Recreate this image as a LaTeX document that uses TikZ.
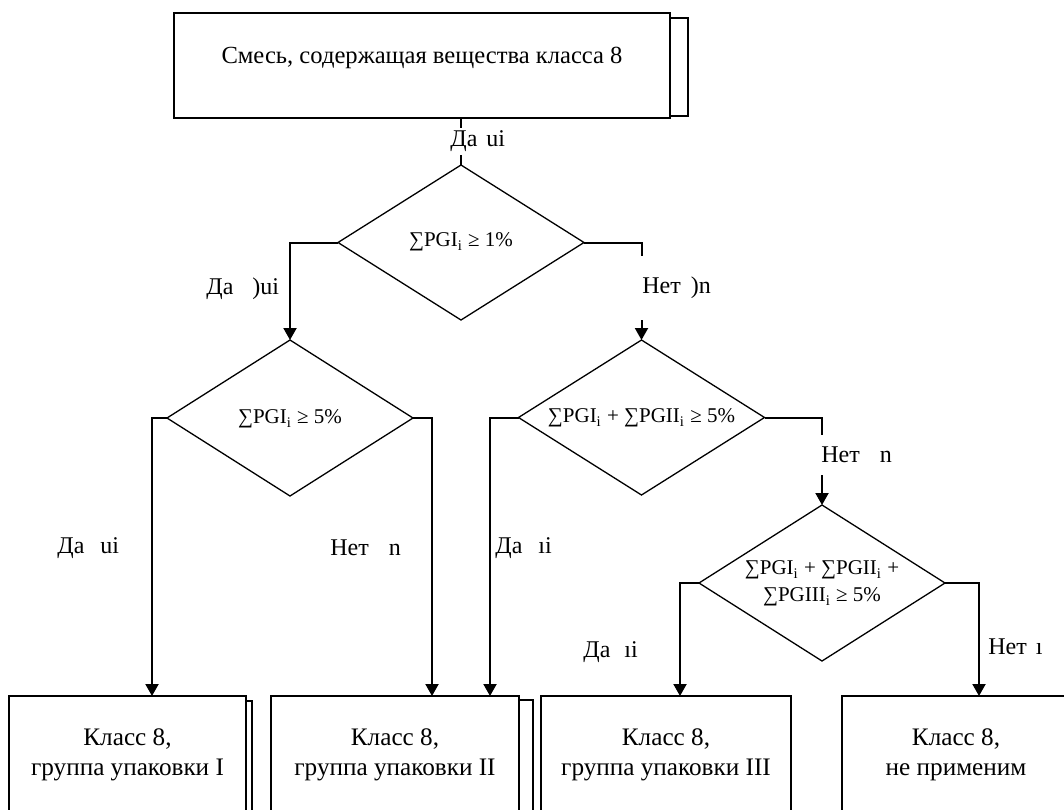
\documentclass[tikz,border=0pt]{standalone}
\usepackage{fontspec}
\setmainfont{Liberation Serif}
\usetikzlibrary{shapes.geometric,arrows.meta,calc}
\newcommand{\sbi}{\textsubscript{i}}
\begin{document}
\begin{tikzpicture}[x=0.5pt,y=-0.5pt,font=\fontsize{12}{15}\selectfont,
  boxst/.style={draw,line width=0.65pt,inner sep=0pt,outer sep=0pt},
  dia/.style={draw,diamond,line width=0.65pt,inner sep=0pt,outer sep=0pt,minimum width=123pt,minimum height=78pt},
  txt/.style={inner sep=0pt,align=center},
  btxt/.style={inner sep=0pt,align=center,font=\fontsize{12.6}{15}\selectfont},
  dtxt/.style={inner sep=0pt,align=center,font=\fontsize{10.5}{13.5}\selectfont},
  lbl/.style={fill=white,inner sep=1pt,anchor=west},
  nlbl/.style={inner sep=1pt,anchor=west},
  conn/.style={line width=1pt},
  arr/.style={line width=1pt,-{Triangle[length=6pt,width=6.5pt]}},
  shad/.style={line width=0.65pt}]
\useasboundingbox (0,0) rectangle (1064,809);
\clip (0,0) rectangle (1064,809);
% top box
\node[boxst,minimum width=248pt,minimum height=52.5pt] (t) at (422,65.5) {};
\node[txt,font=\fontsize{12.3}{15}\selectfont] (tt) at (422,58) {Смесь, содержащая вещества класса 8};
\draw[shad] ([yshift=-2.5pt]t.north east) -- ++(18,0) |- ([yshift=1pt]t.south east);
% diamonds
\node[dia,minimum height=77.5pt] (d1) at (461,242.5) {};
\node[dtxt] (d1t) at (461,242) {∑PGI\sbi{} ≥ 1\%};
\node[dia] (d2) at (290,418) {};
\node[dtxt] (d2t) at (290,419) {∑PGI\sbi{} ≥ 5\%};
\node[dia,minimum height=77.5pt] (d3) at (641.5,417.5) {};
\node[dtxt] (d3t) at (641.5,418) {∑PGI\sbi{} + ∑PGII\sbi{} ≥ 5\%};
\node[dia] (d4) at (822,583) {};
\node[dtxt] (d4t) at (822,583.5) {∑PGI\sbi{} + ∑PGII\sbi{} +\\∑PGIII\sbi{} ≥ 5\%};
% bottom boxes
\node[boxst,minimum width=118.5pt,minimum height=67pt] (b1) at (127.5,763) {};
\node[btxt] (b1t) at (127.5,755) {Класс 8,\\группа упаковки I};
\draw[shad] ([yshift=-2.5pt]b1.north east) -- ++(6,0) -- ++(0,200);
\node[boxst,minimum width=124pt,minimum height=67pt] (b2) at (395,763) {};
\node[btxt] (b2t) at (395,755) {Класс 8,\\группа упаковки II};
\draw[shad] ([yshift=-2pt]b2.north east) -- ++(14,0) -- ++(0,200);
\node[boxst,minimum width=125pt,minimum height=67pt] (b3) at (666,763) {};
\node[btxt] (b3t) at (666,755) {Класс 8,\\группа упаковки III};
\node[boxst,minimum width=116pt,minimum height=67pt] (b4) at (958,763) {};
\node[btxt] (b4t) at (956,755) {Класс 8,\\не применим};
% connectors
\draw[conn] (t.south -| d1.north) -- (d1.north);
\draw[arr] (d1.west) -| (d2.north);
\draw[arr] (d1.east) -| (d3.north);
\draw[arr] (d2.west) -| ($(b1.north west)+(143,0)$);
\draw[arr] (d2.east) -| ($(b2.north west)+(161,0)$);
\draw[arr] (d3.west) -| ($(b2.north west)+(219,0)$);
\draw[arr] (d3.east) -| (d4.north);
\draw[arr] (d4.west) -| ($(b3.north west)+(139,0)$);
\draw[arr] (d4.east) -| ($(b4.north west)+(137,0)$);
% labels
\node[lbl,inner ysep=1.5pt] (l0) at (448,141) {Да\hspace{4.5pt}ui};
\node[nlbl] (l1) at (204,289) {Да\hspace{9.5pt})ui};
\node[lbl,minimum height=32pt] (l2) at (640,288) {Нет\hspace{5pt})n};
\node[nlbl] (l3) at (55,548) {Да\hspace{8pt}ui};
\node[nlbl] (l4) at (328,548) {Нет\hspace{10pt}n};
\node[nlbl] (l5) at (493,548) {Да\hspace{8pt}ıi};
\node[lbl,minimum height=20pt] (l6) at (819,455) {Нет\hspace{10pt}n};
\node[nlbl] (l7) at (581,652) {Да\hspace{7pt}ıi};
\node[nlbl] (l8) at (986,647) {Нет\hspace{4.5pt}ı};
\end{tikzpicture}
\end{document}
